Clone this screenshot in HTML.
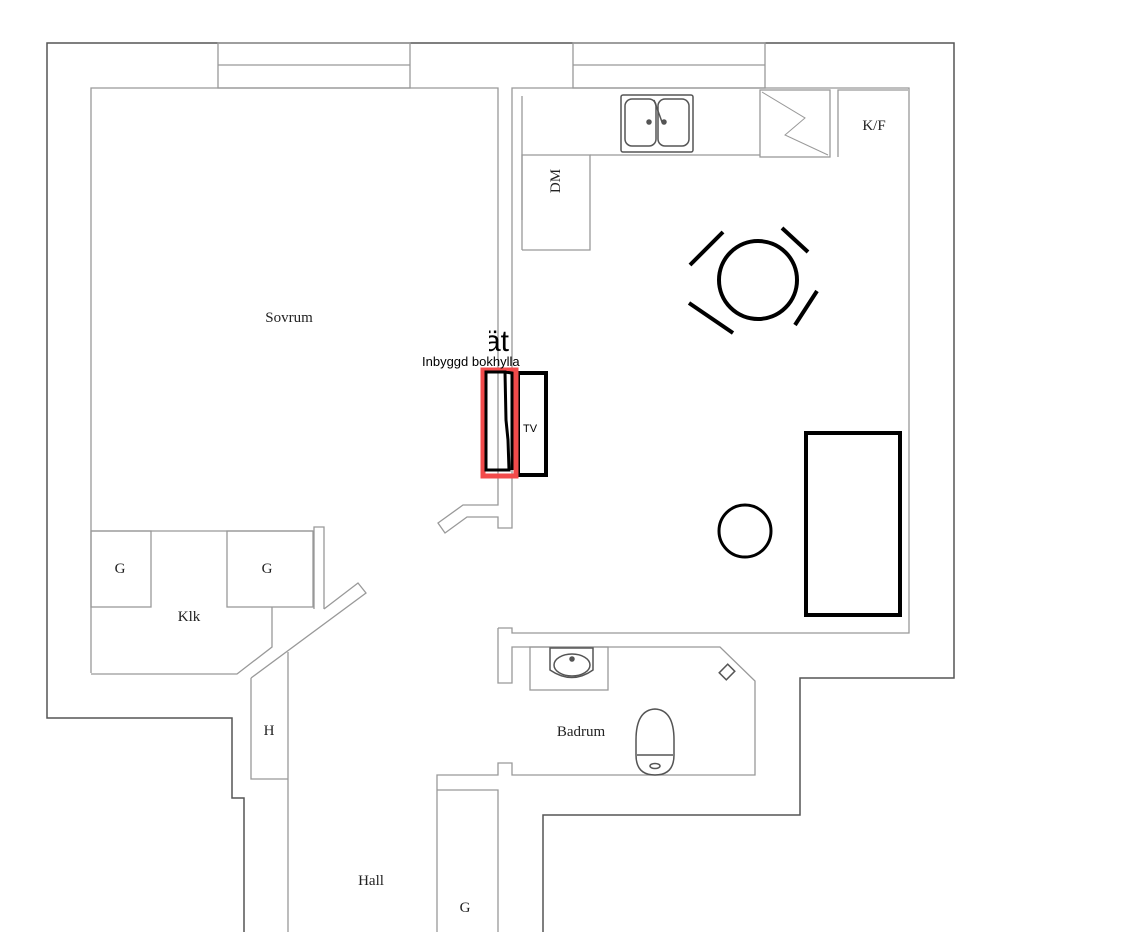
<!DOCTYPE html>
<html><head><meta charset="utf-8"><style>
html,body{margin:0;padding:0;background:#fff;width:1121px;height:932px;overflow:hidden}
svg{display:block}
.s{font-family:"Liberation Serif",serif;font-size:15px;fill:#222}
</style></head><body>
<svg width="1121" height="932" viewBox="0 0 1121 932" xmlns="http://www.w3.org/2000/svg">
<defs>
<clipPath id="c"><rect x="0" y="0" width="520" height="932"/></clipPath>
<clipPath id="c2"><rect x="489" y="0" width="24" height="932"/></clipPath>
</defs>
<g fill="none" stroke="#555" stroke-width="1.5">
<polyline points="244,932 244,798 232,798 232,718 47,718 47,43 954,43 954,678 800,678 800,815 543,815 543,932"/>
</g>
<g fill="none" stroke="#999" stroke-width="1.3">
<rect x="218" y="43" width="192" height="45"/><line x1="218" y1="65" x2="410" y2="65"/>
<rect x="573" y="43" width="192" height="45"/><line x1="573" y1="65" x2="765" y2="65"/>
<polyline points="91,673 91,88 498,88 498,505 463,505 438,523 445,533 467,517 498,517 498,528 512,528 512,88 909,88 909,633 512,633 512,628 498,628"/>
<line x1="91" y1="531" x2="313" y2="531"/>
<rect x="91" y="531" width="60" height="76"/>
<rect x="227" y="531" width="86" height="76"/>
<polyline points="314,609 314,527 324,527 324,609"/>
<polyline points="272,607 272,647 237,674 91,674"/>
<polyline points="251,678 366,593 358,583 324,609"/>
<polyline points="251,678 251,779 288,779"/>
<polyline points="288,652 288,932"/>
<polyline points="498,628 498,683 512,683 512,647 720,647 755,681 755,775 512,775 512,763 498,763 498,775 437,775 437,932"/>
<polyline points="437,790 498,790 498,932"/>
<rect x="530" y="647" width="78" height="43"/>
<line x1="522" y1="96" x2="522" y2="220"/>
<polyline points="522,250 522,155 590,155 590,250 522,250"/>
<line x1="590" y1="155" x2="760" y2="155"/>
<rect x="760" y="90" width="70" height="67"/>
<polyline points="762,92 805,118 785,135 828,155" stroke-width="1"/>
<polyline points="838,157 838,90 908,90"/>
</g>
<g fill="none" stroke="#555" stroke-width="1.5">
<rect x="621" y="95" width="72" height="57" rx="2"/>
<rect x="625" y="99" width="31" height="47" rx="7"/>
<rect x="658" y="99" width="31" height="47" rx="7"/>
<line x1="654" y1="100" x2="662" y2="122"/>
<circle cx="649" cy="122" r="2" fill="#555"/><circle cx="664" cy="122" r="2" fill="#555"/>
<path d="M550,648 H593 V670 Q572,685 550,670 Z"/>
<ellipse cx="572" cy="665" rx="18" ry="11"/>
<circle cx="572" cy="659" r="2" fill="#555"/>
<path d="M636,740 Q636,710 655,709 Q674,710 674,740 L674,755 Q674,775 655,775 Q636,775 636,755 Z"/>
<line x1="637" y1="755" x2="673" y2="755"/>
<ellipse cx="655" cy="766" rx="5" ry="2.5"/>
<rect x="722" y="666" width="10" height="12" transform="rotate(45 727 672)"/>
</g>
<g fill="none" stroke="#000" stroke-width="4">
<circle cx="758" cy="280" r="39"/>
<line x1="690" y1="265" x2="723" y2="232"/>
<line x1="782" y1="228" x2="808" y2="252"/>
<line x1="689" y1="303" x2="733" y2="333"/>
<line x1="795" y1="325" x2="817" y2="291"/>
<circle cx="745" cy="531" r="26" stroke-width="3"/>
<rect x="806" y="433" width="94" height="182"/>
<rect x="518" y="373" width="28" height="102"/>
</g>
<path d="M483,370 L516,370 L516,476 L483,476 Z" fill="none" stroke="#f24b4b" stroke-width="5"/>
<path d="M486,372 L505,372 L506,420 L508,440 L509,470 L486,470 Z M505,372 L512,373 L512,470" fill="none" stroke="#000" stroke-width="3"/>
<text x="523" y="432" font-family="Liberation Sans,sans-serif" font-size="11">TV</text>
<g clip-path="url(#c2)">
<text x="484" y="351" font-family="Liberation Sans,sans-serif" font-size="30">ät</text>
</g>
<g clip-path="url(#c)">
<text x="422" y="366" font-family="Liberation Sans,sans-serif" font-size="13">Inbyggd bokhylla</text>
</g>
<text class="s" x="289" y="322" text-anchor="middle">Sovrum</text>
<text class="s" x="189" y="621" text-anchor="middle">Klk</text>
<text class="s" x="120" y="573" text-anchor="middle">G</text>
<text class="s" x="267" y="573" text-anchor="middle">G</text>
<text class="s" x="269" y="735" text-anchor="middle">H</text>
<text class="s" x="371" y="885" text-anchor="middle">Hall</text>
<text class="s" x="465" y="912" text-anchor="middle">G</text>
<text class="s" x="581" y="736" text-anchor="middle">Badrum</text>
<text class="s" x="874" y="130" text-anchor="middle">K/F</text>
<text class="s" x="0" y="0" text-anchor="middle" transform="translate(560,181) rotate(-90)">DM</text>
</svg>
</body></html>
